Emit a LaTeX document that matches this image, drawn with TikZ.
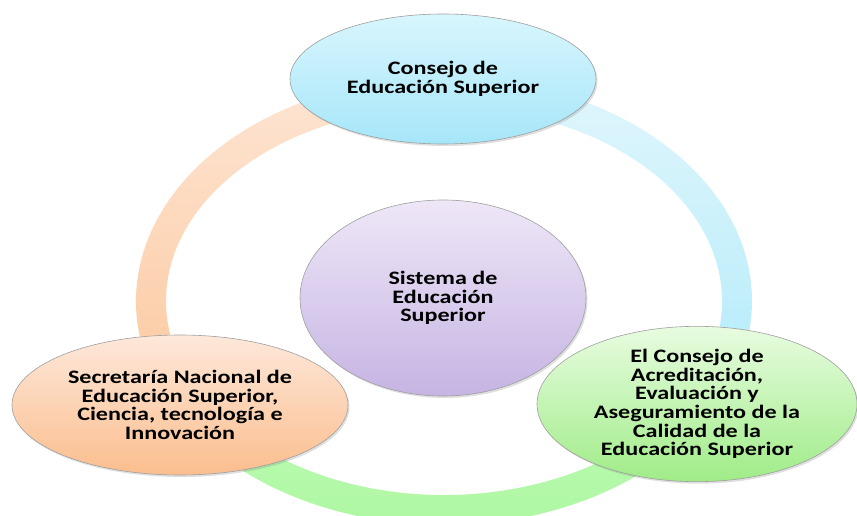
\documentclass[tikz,border=0pt]{standalone}
\usepackage{fontspec}
\setmainfont{Carlito}[FakeStretch=1.27]
\usetikzlibrary{shapes.geometric,shadows,calc}
\definecolor{cesTop}{RGB}{216,246,253}
\definecolor{cesBot}{RGB}{166,230,249}
\definecolor{sisTop}{RGB}{238,231,247}
\definecolor{sisBot}{RGB}{198,180,227}
\definecolor{senTop}{RGB}{253,232,218}
\definecolor{senBot}{RGB}{251,190,142}
\definecolor{ceaTop}{RGB}{232,252,224}
\definecolor{ceaBot}{RGB}{160,236,136}
\definecolor{arcOrTop}{RGB}{253,229,212}
\definecolor{arcOrBot}{RGB}{252,200,157}
\definecolor{arcBlTop}{RGB}{225,246,252}
\definecolor{arcBlBot}{RGB}{176,235,250}
\definecolor{arcGrTop}{RGB}{190,250,180}
\definecolor{arcGrBot}{RGB}{170,247,158}
\tikzset{
  nodo/.style={ellipse,draw=gray!75,line width=0.6pt,inner sep=0pt,align=center,
               font=\bfseries\fontsize{19}{18.7}\selectfont,
               drop shadow={opacity=0.25,shadow xshift=1.5pt,shadow yshift=-2pt}},
}

\begin{document}
\begin{tikzpicture}[x=1pt,y=1pt]
  \useasboundingbox (0,0) rectangle (857,515);
  \coordinate (c) at (444,214);
  % anillo
  \shade[top color=arcOrTop,bottom color=arcOrBot]
    ($(c)+(210:308 and 224)$) arc[start angle=210,end angle=90,x radius=308,y radius=224]
    -- ($(c)+(90:278 and 194)$) arc[start angle=90,end angle=210,x radius=278,y radius=194] -- cycle;
  \shade[top color=arcBlTop,bottom color=arcBlBot]
    ($(c)+(90:308 and 224)$) arc[start angle=90,end angle=-30,x radius=308,y radius=224]
    -- ($(c)+(-30:278 and 194)$) arc[start angle=-30,end angle=90,x radius=278,y radius=194] -- cycle;
  \shade[top color=arcGrTop,bottom color=arcGrBot]
    ($(c)+(210:308 and 224)$) arc[start angle=210,end angle=330,x radius=308,y radius=224]
    -- ($(c)+(330:278 and 194)$) arc[start angle=330,end angle=210,x radius=278,y radius=194] -- cycle;
  % elipses
  \node[nodo,top color=sisTop,bottom color=sisBot,minimum width=286pt,minimum height=196pt]
    (sist) at (443,217) {Sistema de\\Educación\\Superior};
  \node[nodo,top color=cesTop,bottom color=cesBot,minimum width=306pt,minimum height=130pt]
    (ces) at (443,436) {Consejo de\\Educación Superior};
  \node[nodo,top color=senTop,bottom color=senBot,minimum width=336pt,minimum height=140pt]
    (sen) at (180,110) {Secretaría Nacional de\\Educación Superior,\\Ciencia, tecnología e\\Innovación};
  \node[nodo,top color=ceaTop,bottom color=ceaBot,minimum width=320pt,minimum height=138pt]
    (cea) at (697,111) {El Consejo de\\Acreditación,\\Evaluación y\\Aseguramiento de la\\Calidad de la\\Educación Superior};
\end{tikzpicture}
\end{document}
